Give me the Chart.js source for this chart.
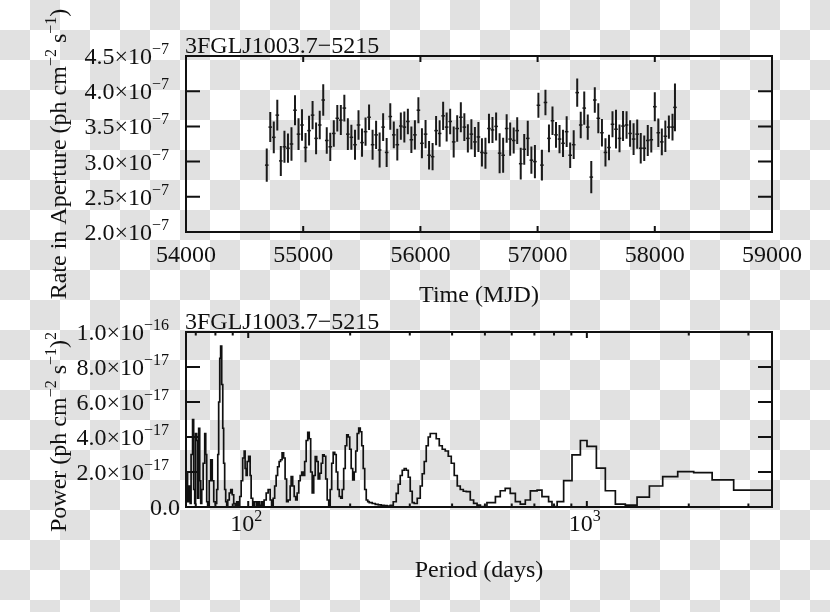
<!DOCTYPE html>
<html>
<head>
<meta charset="utf-8">
<script src="https://cdn.jsdelivr.net/npm/chart.js@4.4.1/dist/chart.umd.min.js"></script>
<style>
  html, body { margin: 0; padding: 0; }
  body {
    width: 830px; height: 612px; overflow: hidden; position: relative;
    background: repeating-conic-gradient(#e1e1e1 0 25%, #ffffff 0 50%) 0 0 / 60px 60px;
  }
  canvas { position: absolute; left: 0; top: 0; }
</style>
</head>
<body>
<canvas id="lc" width="830" height="612"></canvas>
<canvas id="psd" width="830" height="612"></canvas>
<script>
const source = "3FGLJ1003.7\u22125215";

// light curve: 30-day bins, rate in units of 1e-7 ph cm^-2 s^-1
const mjd = [54689, 54719, 54749, 54779, 54809, 54840, 54870, 54900, 54930, 54960,
  54990, 55020, 55050, 55080, 55110, 55141, 55171, 55201, 55231, 55261,
  55291, 55321, 55351, 55381, 55411, 55442, 55472, 55502, 55532, 55562,
  55592, 55622, 55652, 55682, 55712, 55743, 55773, 55803, 55833, 55863,
  55893, 55923, 55953, 55983, 56013, 56044, 56074, 56104, 56134, 56164,
  56194, 56224, 56254, 56284, 56314, 56345, 56375, 56405, 56435, 56465,
  56495, 56525, 56555, 56585, 56615, 56646, 56676, 56706, 56736, 56766,
  56796, 56826, 56856, 56886, 56916, 56947, 56977, 57007, 57037, 57067,
  57097, 57127, 57157, 57187, 57217, 57248, 57278, 57308, 57338, 57368,
  57398, 57428, 57458, 57488, 57518, 57549, 57579, 57609, 57639, 57669,
  57699, 57729, 57759, 57789, 57819, 57850, 57880, 57910, 57940, 57970,
  58000, 58030, 58060, 58090, 58120, 58151, 58172];
const rate = [2.95, 3.49, 3.345, 3.66, 3.01, 3.21, 3.19, 3.25, 3.73, 3.39,
  3.52, 3.20, 3.44, 3.66, 3.33, 3.52, 3.875, 3.30, 3.21, 3.40,
  3.615, 3.59, 3.76, 3.39, 3.345, 3.24, 3.52, 3.27, 3.425, 3.63,
  3.24, 3.38, 3.165, 3.49, 3.13, 3.64, 3.38, 3.24, 3.505, 3.49,
  3.57, 3.31, 3.38, 3.73, 3.26, 3.39, 3.09, 3.07, 3.44, 3.40,
  3.65, 3.49, 3.57, 3.28, 3.47, 3.63, 3.49, 3.33, 3.39, 3.28,
  3.35, 3.13, 3.12, 3.47, 3.45, 3.50, 3.12, 3.09, 3.47, 3.32,
  3.30, 3.44, 2.97, 3.175, 3.33, 3.02, 3.00, 3.80, 2.95, 3.84,
  3.33, 3.58, 3.38, 3.32, 3.26, 3.425, 3.09, 3.24, 3.98, 3.52,
  3.76, 3.49, 2.78, 3.875, 3.615, 3.41, 3.13, 3.20, 3.53, 3.46,
  3.33, 3.505, 3.52, 3.40, 3.32, 3.39, 3.19, 3.19, 3.30, 3.31,
  3.78, 3.41, 3.28, 3.36, 3.49, 3.49, 3.77];
const rateErr = [0.237, 0.213, 0.225, 0.218, 0.213, 0.227, 0.208, 0.237, 0.213, 0.225,
  0.225, 0.208, 0.213, 0.201, 0.225, 0.201, 0.225, 0.189, 0.201, 0.189,
  0.189, 0.213, 0.189, 0.225, 0.178, 0.213, 0.208, 0.201, 0.201, 0.182,
  0.213, 0.201, 0.249, 0.196, 0.206, 0.189, 0.189, 0.225, 0.194, 0.220,
  0.182, 0.189, 0.208, 0.185, 0.213, 0.201, 0.201, 0.194, 0.206, 0.189,
  0.201, 0.206, 0.182, 0.220, 0.189, 0.213, 0.196, 0.201, 0.213, 0.213,
  0.213, 0.201, 0.220, 0.208, 0.185, 0.199, 0.284, 0.249, 0.204, 0.237,
  0.185, 0.189, 0.225, 0.218, 0.249, 0.194, 0.237, 0.178, 0.218, 0.180,
  0.196, 0.201, 0.182, 0.201, 0.194, 0.218, 0.182, 0.204, 0.201, 0.189,
  0.237, 0.178, 0.230, 0.180, 0.213, 0.194, 0.201, 0.182, 0.185, 0.275,
  0.196, 0.213, 0.196, 0.189, 0.225, 0.208, 0.218, 0.182, 0.220, 0.180,
  0.206, 0.201, 0.189, 0.225, 0.166, 0.189, 0.34];

// periodogram: left edge of each step (days) and power in units of 1e-17
const period = [65.6, 66.2, 66.7, 67.4, 67.8, 68.5, 69.0, 69.5, 69.9, 70.4,
  70.9, 71.4, 71.9, 72.4, 72.9, 73.6, 74.4, 74.9, 75.4, 75.9,
  76.7, 77.5, 78.3, 79.1, 79.9, 80.7, 81.3, 81.8, 82.4, 82.9,
  83.5, 84.1, 84.6, 85.2, 85.8, 86.4, 87.0, 87.9, 88.8, 89.7,
  90.6, 91.5, 92.5, 93.4, 94.4, 95.3, 96.3, 97.3, 97.9, 98.6,
  99.3, 100.3, 101.3, 102.0, 103.1, 104.1, 105.6, 106.6, 107.7, 109.2,
  110.3, 111.4, 113.0, 114.5, 116.1, 117.3, 118.5, 119.7, 120.9, 122.1,
  123.4, 124.6, 125.9, 127.2, 128.5, 129.8, 131.2, 133.0, 133.9, 135.3,
  136.7, 138.1, 139.5, 141.0, 142.4, 143.9, 145.3, 146.8, 148.3, 149.9,
  151.4, 152.9, 154.5, 156.1, 157.7, 159.3, 160.9, 162.6, 164.3, 165.9,
  167.6, 169.4, 171.1, 172.9, 174.6, 176.4, 178.2, 180.1, 181.9, 183.8,
  185.7, 187.6, 189.5, 191.4, 193.4, 195.4, 197.4, 199.4, 201.4, 203.5,
  205.6, 207.7, 209.8, 212.0, 214.2, 216.4, 218.6, 220.8, 223.1, 225.4,
  227.7, 232.4, 237.2, 242.1, 247.0, 252.1, 257.3, 262.6, 268.1, 273.6,
  277.3, 281.1, 285.0, 288.9, 292.8, 296.9, 300.9, 305.0, 309.2, 315.6,
  322.1, 326.5, 331.0, 335.5, 340.1, 344.8, 351.9, 359.1, 366.6, 374.1,
  381.8, 389.7, 397.7, 405.9, 414.3, 422.8, 431.6, 440.5, 452.6, 463,
  474, 485, 507, 537, 555, 574, 594, 615, 636, 658,
  681, 713, 737, 771, 789, 817, 854, 904, 957, 1001,
  1067, 1134, 1214, 1299, 1407, 1530, 1675, 1855, 2068, 2344,
  2714, 3218, 3600];
const power = [0.8, 2.0, 0.3, 1.2, 0.2, 3.0, 5.0, 1.0, 0.2, 4.2,
  3.8, 0.5, 4.5, 1.5, 0.2, 1.0, 2.5, 4.2, 3.0, 0.3,
  0.1, 1.5, 2.7, 1.5, 0.3, 0.2, 1.0, 3.0, 6.0, 8.5,
  9.2, 7.0, 4.5, 2.5, 1.0, 0.3, 0.1, 0.4, 0.8, 1.0,
  0.7, 0.2, 0.05, 0.3, 0.1, 0.6, 1.5, 2.8, 3.2, 2.2,
  1.8, 2.6, 2.9, 1.8, 0.5, 0.1, 0.3, 0.1, 0.3, 0.1,
  0.3, 0.1, 0.4, 0.8, 1.0, 0.4, 0.1, 0.5, 1.2, 1.8,
  2.3, 2.6, 2.7, 3.1, 2.8, 1.6, 0.3, 0.4, 1.2, 1.74,
  1.2, 0.6, 0.4, 0.8, 1.5, 1.8, 2.0, 1.8, 2.6, 3.8,
  4.26, 3.9, 2.0, 0.8, 1.8, 2.88, 2.6, 1.6, 1.93, 2.5,
  2.98, 2.9, 1.6, 0.4, 0.11, 1.0, 2.5, 3.13, 3.0, 2.0,
  1.0, 0.6, 0.5, 1.0, 2.2, 3.5, 4.13, 4.0, 3.3, 2.2,
  1.55, 2.0, 3.2, 4.2, 4.51, 4.3, 3.5, 2.2, 1.0, 0.4,
  0.31, 0.25, 0.2, 0.15, 0.12, 0.1, 0.08, 0.05, 0.1, 0.3,
  0.78, 1.3, 1.8, 2.1, 2.2, 2.1, 1.7, 0.9, 0.25, 0.2,
  0.5, 1.2, 1.9, 2.6, 3.5, 4.0, 4.2, 4.2, 3.9, 3.5,
  3.3, 3.2, 2.9, 2.5, 1.8, 1.2, 1.0, 0.9, 0.88, 0.40,
  0.21, 0.11, 0.02, 0.25, 0.59, 0.93, 1.07, 0.78, 0.31, 0.17,
  0.40, 0.92, 0.97, 0.59, 0.31, 0.02, 0.31, 1.51, 2.98, 3.80,
  3.46, 2.22, 0.93, 0.17, 0.11, 0.56, 1.20, 1.74, 2.02, 1.97,
  1.55, 0.97, 0.97];

// axes
const timeTicks = [54000, 55000, 56000, 57000, 58000, 59000];
const rateTicks = [2.0, 2.5, 3.0, 3.5, 4.0, 4.5];
const powerTicks = [0, 2, 4, 6, 8, 10];
const powerLabels = [["0.0"], ["2.0\u00d710", "\u221217"], ["4.0\u00d710", "\u221217"],
  ["6.0\u00d710", "\u221217"], ["8.0\u00d710", "\u221217"], ["1.0\u00d710", "\u221216"]];
const periodTicks = [100, 1000];
const periodLabels = [["10", "2"], ["10", "3"]];
const periodMinor = [70, 80, 90, 200, 300, 400, 500, 600, 700, 800, 900, 2000, 3000];

const FONT = '"Liberation Serif", "Times New Roman", serif';
const INK = "#111";

// parts: [text, superscript, text, superscript ...]
function drawRich(ctx, parts, x, y, align) {
  const items = parts.map((t, i) => ({ t, sup: i % 2 === 1 }));
  let w = 0;
  items.forEach(p => {
    ctx.font = (p.sup ? 16 : 24) + "px " + FONT;
    p.w = ctx.measureText(p.t).width;
    w += p.w;
  });
  let cx = align === "right" ? x - w : align === "center" ? x - w / 2 : x;
  ctx.textAlign = "left";
  ctx.textBaseline = "alphabetic";
  items.forEach(p => {
    ctx.font = (p.sup ? 16 : 24) + "px " + FONT;
    ctx.fillText(p.t, cx, p.sup ? y - 10 : y);
    cx += p.w;
  });
}

function axesPlugin(cfg) {
  return {
    id: "axes",
    afterDraw(chart) {
      const { ctx, chartArea: a } = chart;
      const x = chart.scales.x, y = chart.scales.y;
      ctx.save();
      ctx.strokeStyle = INK;
      ctx.fillStyle = INK;
      ctx.lineWidth = 2;
      ctx.strokeRect(a.left, a.top, a.right - a.left, a.bottom - a.top);
      ctx.beginPath();
      cfg.yTicks.forEach(v => {
        const py = y.getPixelForValue(v);
        ctx.moveTo(a.left, py); ctx.lineTo(a.left + 14, py);
        ctx.moveTo(a.right, py); ctx.lineTo(a.right - 14, py);
      });
      cfg.xTicks.forEach(v => {
        const px = x.getPixelForValue(v);
        ctx.moveTo(px, a.bottom); ctx.lineTo(px, a.bottom - 6);
        ctx.moveTo(px, a.top); ctx.lineTo(px, a.top + 6);
      });
      (cfg.xMinor || []).forEach(v => {
        const px = x.getPixelForValue(v);
        ctx.moveTo(px, a.bottom); ctx.lineTo(px, a.bottom - 3.5);
        ctx.moveTo(px, a.top); ctx.lineTo(px, a.top + 3.5);
      });
      ctx.stroke();

      cfg.yTicks.forEach((v, i) => {
        const parts = cfg.yLabels[i];
        drawRich(ctx, parts, parts.length > 1 ? 169 : 180, y.getPixelForValue(v) + 8, "right");
      });
      cfg.xTicks.forEach((v, i) => {
        drawRich(ctx, cfg.xLabels[i], x.getPixelForValue(v) + cfg.xLabelShift, a.bottom + cfg.xLabelDrop, "center");
      });
      drawRich(ctx, [source], a.left - 1, a.top - 3, "left");
      drawRich(ctx, cfg.xTitle, (a.left + a.right) / 2, cfg.xTitleY, "center");

      ctx.save();
      ctx.translate(66, cfg.yTitleY);
      ctx.rotate(-Math.PI / 2);
      drawRich(ctx, cfg.yTitle, 0, 0, "center");
      ctx.restore();
      ctx.restore();
    }
  };
}

// light curve chart
const errorBars = [];
const binMarks = [];
mjd.forEach((t, i) => {
  errorBars.push({ x: t, y: rate[i] - rateErr[i] }, { x: t, y: rate[i] + rateErr[i] }, { x: t, y: null });
  binMarks.push({ x: t, y: rate[i] });
});

new Chart(document.getElementById("lc"), {
  type: "scatter",
  data: {
    datasets: [
      { data: errorBars, showLine: true, spanGaps: false, borderColor: "#1a1a1a", borderWidth: 2, pointRadius: 0 },
      { data: binMarks, pointStyle: "line", pointRadius: 1.8, pointBorderWidth: 1.5, borderColor: "#1a1a1a" }
    ]
  },
  options: {
    responsive: false,
    animation: false,
    events: [],
    layout: { padding: { left: 186, top: 56, right: 58, bottom: 380 } },
    scales: {
      x: { type: "linear", min: 54000, max: 59000, display: false },
      y: { type: "linear", min: 2.0, max: 4.5, display: false }
    },
    plugins: { legend: { display: false }, tooltip: { enabled: false } }
  },
  plugins: [axesPlugin({
    xTicks: timeTicks,
    xLabels: timeTicks.map(v => [String(v)]),
    xLabelShift: 0,
    xLabelDrop: 30,
    yTicks: rateTicks,
    yLabels: rateTicks.map(v => [v.toFixed(1) + "\u00d710", "\u22127"]),
    xTitle: ["Time (MJD)"],
    xTitleY: 302,
    yTitle: ["Rate in Aperture (ph cm", "\u22122", " s", "\u22121", ")"],
    yTitleY: 154
  })]
});

// periodogram chart
new Chart(document.getElementById("psd"), {
  type: "line",
  data: {
    datasets: [{
      data: period.map((p, i) => ({ x: p, y: power[i] })),
      stepped: "after",
      borderColor: INK,
      borderWidth: 1.7,
      pointRadius: 0,
      fill: false
    }]
  },
  options: {
    responsive: false,
    animation: false,
    events: [],
    layout: { padding: { left: 186, top: 332, right: 58, bottom: 105 } },
    scales: {
      x: { type: "logarithmic", min: 65.5, max: 3522, display: false },
      y: { type: "linear", min: 0, max: 10, display: false }
    },
    plugins: { legend: { display: false }, tooltip: { enabled: false } }
  },
  plugins: [axesPlugin({
    xTicks: periodTicks,
    xMinor: periodMinor,
    xLabels: periodLabels,
    xLabelShift: -2,
    xLabelDrop: 24,
    yTicks: powerTicks,
    yLabels: powerLabels,
    xTitle: ["Period (days)"],
    xTitleY: 577,
    yTitle: ["Power (ph cm", "\u22122", " s", "\u22121", ")", "2"],
    yTitleY: 432
  })]
});
</script>
</body>
</html>
